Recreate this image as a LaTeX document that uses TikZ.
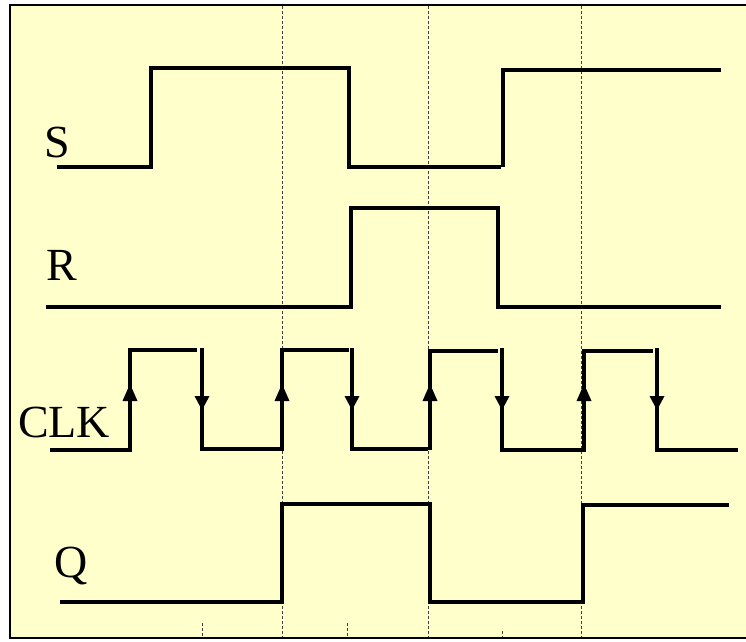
\documentclass[tikz,border=0pt]{standalone}
\usepackage{fontspec}
\setmainfont{Liberation Serif}
\definecolor{paper}{HTML}{FFFFCC}
\begin{document}
\begin{tikzpicture}[x=1pt,y=-1pt,
  wave/.style={line width=4.8pt, line join=miter, line cap=butt},
  gridline/.style={line width=0.8pt, black!75, dash pattern=on 3pt off 2pt},
  siglabel/.style={font=\fontsize{46}{46}\selectfont, inner sep=0pt, anchor=base west},
  uptip/.pic={\fill (0,0) -- (-7.5,17) -- (7.5,17) -- cycle;},
  downtip/.pic={\fill (0,0) -- (-7.5,-14) -- (7.5,-14) -- cycle;},
]
\useasboundingbox (0,0) rectangle (746,641);

% panel
\fill[paper] (10,5) rectangle (746,638);
\draw[line width=2pt] (746,5) -- (10,5) -- (10,638) -- (746,638);

% time markers
\foreach \t in {282,428,581} \draw[gridline] (\t,6) -- (\t,637);
\draw[gridline] (202,623) -- (202,637);
\draw[gridline] (347,623) -- (347,637);
\draw[gridline] (502,631) -- (502,637);

% labels
\node[siglabel] (lS) at (44,157) {S};
\node[siglabel] (lR) at (46,280) {R};
\node[siglabel] (lC) at (18,437) {CLK};
\node[siglabel] (lQ) at (54,577) {Q};

% S
\draw[wave] (57,167) -- (151,167) -- (151,68) -- (349,68) -- (349,167)
  -- (501,167);
\draw[wave] (503,167) -- (503,70) -- (721,70);

% R
\draw[wave] (46,307) -- (351,307) -- (351,208) -- (498,208) -- (498,307)
  -- (721,307);

% CLK
\draw[wave] (50,450) -- (130,450) -- (130,350) -- (197,350);
\draw[wave] (202,348) -- (202,449) -- (282,449) -- (282,350) -- (349,350);
\draw[wave] (352,348) -- (352,449) -- (428,449);
\draw[wave] (430,450) -- (430,351) -- (498,351);
\draw[wave] (502,348) -- (502,450) -- (584,450) -- (584,351) -- (653,351);
\draw[wave] (657,348) -- (657,450) -- (738,450);

% edge arrows
\foreach \x in {130,282,430,584} \pic at (\x,384) {uptip};
\foreach \x in {202,352,502,657} \pic at (\x,410) {downtip};

% Q
\draw[wave] (60,602) -- (282,602) -- (282,504) -- (430,504) -- (430,602)
  -- (583,602) -- (583,505) -- (729,505);
\end{tikzpicture}
\end{document}
